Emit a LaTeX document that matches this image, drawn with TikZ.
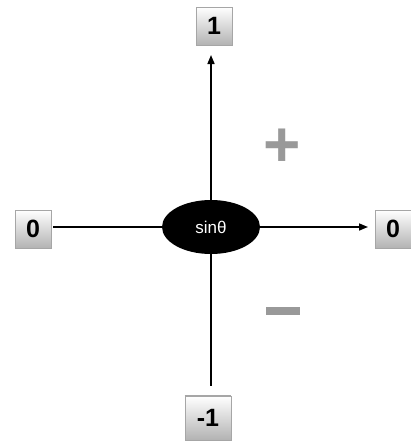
\documentclass[tikz,border=0pt]{standalone}
\usepackage{fontspec}
\setmainfont{Liberation Sans}
\usetikzlibrary{shapes.geometric,arrows.meta}
\begin{document}
\begin{tikzpicture}[x=1pt,y=-1pt,
  valbox/.style={draw=gray!70, line width=0.6pt, top color=white, bottom color=gray!60,
    minimum width=36pt, minimum height=38pt, inner sep=0pt,
    font=\fontsize{25}{25}\selectfont\bfseries, text depth=0pt},
  link/.style={line width=1.6pt, black},
  arr/.style={link, -{Triangle[length=9pt,width=7pt]}},
  sign/.style={text=gray!80, font=\fontsize{64}{64}\selectfont\bfseries, inner sep=0pt}
]
\useasboundingbox (0,0) rectangle (410,442);
\node[ellipse, fill=black, minimum width=98pt, minimum height=54pt, inner sep=0pt,
  text=white, font=\fontsize{17}{17}\selectfont] (c) at (211,227) {sinθ};
\node[valbox] (top) at (214,26) {1};
\node[valbox] (left) at (33,229) {0};
\node[valbox] (right) at (393,229) {0};
\node[valbox, minimum width=46pt, minimum height=44pt] (bot) at (208,418) {-1};
\coordinate (topend) at (211,55);
\coordinate (rightend) at (368,227);
\coordinate (botend) at (211,386);
\coordinate (leftend) at (53,227);
\draw[arr] (c.north) -- (topend);
\draw[arr] (c.east) -- (rightend);
\draw[link] (c.west) -- (leftend);
\draw[link] (c.south) -- (botend);
\draw[gray!70, line width=0.8pt] (bot.north west) -- (bot.north east);
\node[sign] (plus) at (282,148) {+};
\node[fill=gray!80, minimum width=34pt, minimum height=8pt, inner sep=0pt] (minus) at (283,311) {};
\end{tikzpicture}
\end{document}
